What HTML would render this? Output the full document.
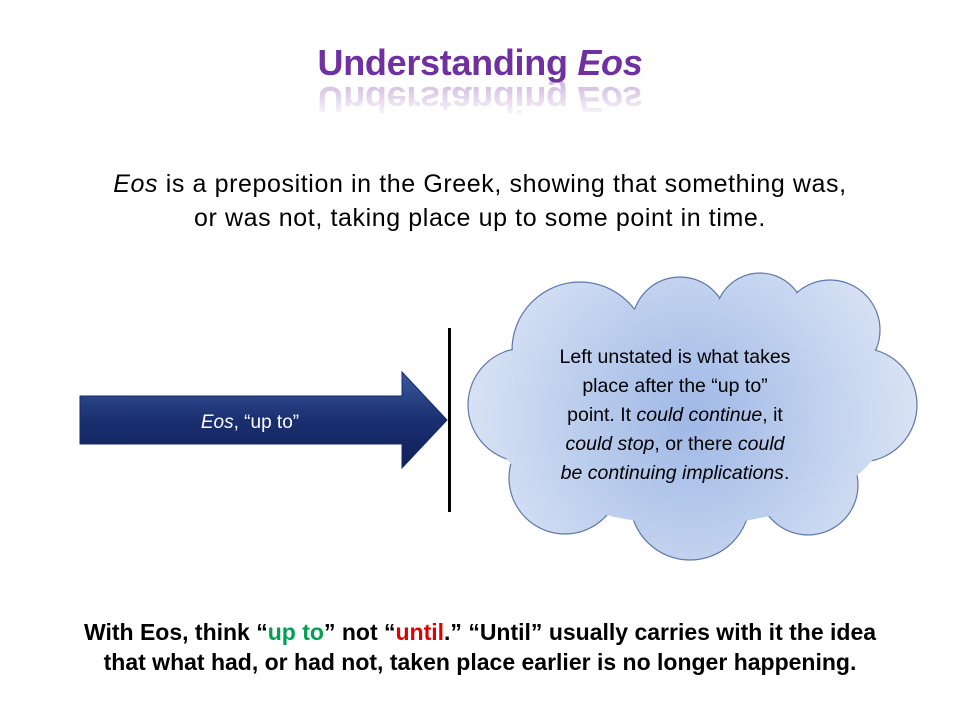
<!DOCTYPE html>
<html><head><meta charset="utf-8"><style>
body{margin:0;width:960px;height:720px;background:#fff;overflow:hidden;font-family:"Liberation Sans",sans-serif;position:relative}
.t{position:absolute;left:0;width:960px;text-align:center}
</style></head><body>
<div class="t" style="top:42px;font-size:36px;font-weight:bold;color:#7030a0;letter-spacing:-0.3px">Understanding <i>Eos</i></div>
<div class="t" style="top:80px;font-size:36px;font-weight:bold;color:#7030a0;letter-spacing:-0.3px;transform:scaleY(-1);opacity:0.35;height:40px;overflow:hidden;-webkit-mask-image:linear-gradient(to top,#000,transparent);mask-image:linear-gradient(to top,#000,transparent)">Understanding <i>Eos</i></div>
<div class="t" style="top:167px;font-size:25px;line-height:34px;letter-spacing:0.6px;color:#000"><i>Eos</i> is a preposition in the Greek, showing that something was,<br>or was not, taking place up to some point in time.</div>
<svg width="960" height="720" style="position:absolute;left:0;top:0">
<defs>
<linearGradient id="ag" x1="0" y1="0" x2="0" y2="1"><stop offset="0" stop-color="#3a5a9e"/><stop offset="0.5" stop-color="#1a2f70"/><stop offset="1" stop-color="#0f1f58"/></linearGradient>
<radialGradient id="cg" gradientUnits="userSpaceOnUse" cx="690" cy="420" r="240"><stop offset="0" stop-color="#9fb8e6"/><stop offset="1" stop-color="#dce5f5"/></radialGradient>
</defs>
<polygon points="80,396 402,396 402,372 447,420 402,468 402,444 80,444" fill="url(#ag)" stroke="#16296a"/>
<text x="250" y="428" font-size="19" fill="#fff" text-anchor="middle" font-family="Liberation Sans"><tspan font-style="italic">Eos</tspan>, “up to”</text>
<rect x="448" y="328" width="3" height="184" fill="#000"/>
<g stroke="#5f77a8" stroke-width="1.2" fill="url(#cg)">
<circle cx="580" cy="350" r="68"/><circle cx="680" cy="325" r="48"/><circle cx="760" cy="318" r="45"/><circle cx="830" cy="330" r="50"/><circle cx="860" cy="405" r="57"/><circle cx="808" cy="485" r="50"/><circle cx="690" cy="500" r="60"/><circle cx="565" cy="478" r="56"/><circle cx="525" cy="405" r="57"/>
</g>
<g fill="url(#cg)">
<circle cx="580" cy="350" r="67"/><circle cx="680" cy="325" r="47"/><circle cx="760" cy="318" r="44"/><circle cx="830" cy="330" r="49"/><circle cx="860" cy="405" r="56"/><circle cx="808" cy="485" r="49"/><circle cx="690" cy="500" r="59"/><circle cx="565" cy="478" r="55"/><circle cx="525" cy="405" r="56"/>
<ellipse cx="690" cy="415" rx="200" ry="110"/>
</g>
<g font-family="Liberation Sans" font-size="19.5" fill="#000" text-anchor="middle">
<text x="675" y="363">Left unstated is what takes</text>
<text x="675" y="392">place after the “up to”</text>
<text x="675" y="421">point.  It <tspan font-style="italic">could continue</tspan>, it</text>
<text x="675" y="450"><tspan font-style="italic">could stop</tspan>, or there <tspan font-style="italic">could</tspan></text>
<text x="675" y="479" font-style="italic">be continuing implications<tspan font-style="normal">.</tspan></text>
</g>
</svg>
<div class="t" style="top:617px;font-size:23px;line-height:30px;font-weight:bold;color:#000">With Eos, think “<span style="color:#00a050">up to</span>” not “<span style="color:#e00000">until</span>.”  “Until” usually carries with it the idea<br>that what had, or had not, taken place earlier is no longer happening.</div>
</body></html>
